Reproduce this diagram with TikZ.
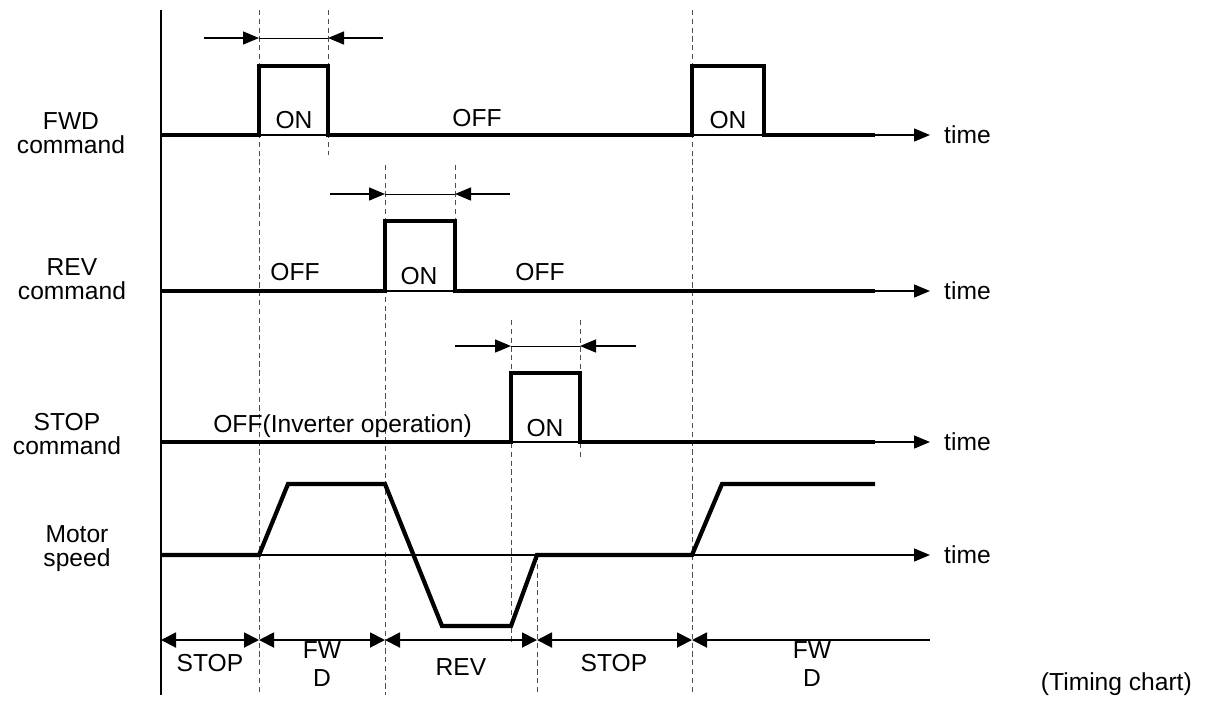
\documentclass[tikz,border=0pt]{standalone}
\usepackage{fontspec}
\setmainfont{Liberation Sans}
\usetikzlibrary{arrows.meta}
\definecolor{ink}{HTML}{000000}
\definecolor{guide}{HTML}{4D4D4D}

\begin{document}
\begin{tikzpicture}[x=.2mm,y=-.2mm,font=\fontsize{14}{13.6}\selectfont,
    signal/.style={draw=ink,line width=2.4pt,line join=miter},
    thinline/.style={draw=ink,line width=.8pt},
    guideline/.style={draw=guide,line width=.55pt,dash pattern=on 3pt off 2pt},
    tip/.style={-{Triangle[length=3.2mm,width=2.6mm]}},
    span/.style={draw=ink,line width=1.1pt,{Triangle[length=3mm,width=3mm]}-{Triangle[length=3mm,width=3mm]}}]
  \useasboundingbox (0,0) rectangle (1205,706);
  \draw[thinline] (161,10) -- (161,695);
  \foreach \x/\ya/\yb in {259/10/695,328/10/155,385/165/695,455/165/293,511/320/645,537/555/695,580/320/460,692/10/695} {
    \draw[guideline] (\x,\ya) -- (\x,\yb);
  }
  \foreach \row/\y in {fwd/135,rev/291,stop/442,motor/555} {
    \coordinate (\row-start) at (161,\y);
    \coordinate (\row-end) at (930,\y);
    \draw[thinline,tip] (\row-start) -- (\row-end);
    \node[anchor=west] (\row-time) at (938,\y) {time};
  }
  \node[align=center] (fwdlab) at (71,133) {FWD\\command};
  \node[align=center] (revlab) at (72,279) {REV\\command};
  \node[align=center] (stoplab) at (67,434) {STOP\\command};
  \node[align=center] (motorlab) at (77,549) {Motor\\speed};
  \draw[signal] (fwd-start) -- (259,135) -- (259,66) -- (328,66) -- (328,135) -- (692,135)
    -- (692,66) -- (764,66) -- (764,135) -- (875,135);
  \draw[signal] (rev-start) -- (385,291) -- (385,221) -- (455,221) -- (455,291) -- (875,291);
  \draw[signal] (stop-start) -- (511,442) -- (511,373) -- (580,373) -- (580,442) -- (875,442);
  \draw[signal] (motor-start) -- (259,555) -- (288,484) -- (385,484) -- (442,626) -- (511,626)
    -- (537,555) -- (692,555) -- (722,484) -- (875,484);
  \node (fwdon) at (294,120) {ON};
  \node (fwdoff) at (477,118) {OFF};
  \node (fwdon2) at (728,120) {ON};
  \node (revoff) at (295,272) {OFF};
  \node (revon) at (419,276) {ON};
  \node (revoff2) at (540,272) {OFF};
  \node[anchor=west,inner sep=0pt] (stopoff) at (213,426) {OFF(Inverter operation)};
  \node (stopon) at (545,428) {ON};
  \foreach \n/\xa/\xb/\xc/\xd/\y in {fwd/204/259/328/383/38,rev/330/385/455/510/194,stop/455/511/580/636/346} {
    \coordinate (\n-pa) at (\xa,\y);
    \coordinate (\n-pb) at (\xb,\y);
    \coordinate (\n-pc) at (\xc,\y);
    \coordinate (\n-pd) at (\xd,\y);
    \draw[thinline,tip] (\n-pa) -- (\n-pb);
    \draw[draw=ink,line width=.5pt] (\n-pb) -- (\n-pc);
    \draw[thinline,tip] (\n-pd) -- (\n-pc);
  }
  \foreach \n/\x in {a/161,b/259,c/385,d/537,e/692,f/930} {
    \coordinate (mark-\n) at (\x,640);
  }
  \draw[span] (mark-a) -- (mark-b);
  \draw[span] (mark-b) -- (mark-c);
  \draw[span] (mark-c) -- (mark-d);
  \draw[span] (mark-d) -- (mark-e);
  \draw[draw=ink,line width=1.1pt,{Triangle[length=3mm,width=3mm]}-] (mark-e) -- (mark-f);
  \node (spanstop) at (210,663) {STOP};
  \node[align=center] (spanfwd) at (322,664) {FW\\[2pt]D};
  \node (spanrev) at (461,667) {REV};
  \node (spanstop2) at (614,663) {STOP};
  \node[align=center] (spanfwd2) at (812,664) {FW\\[2pt]D};
  \node[anchor=east] (chartlab) at (1198,684) {(Timing chart)};
\end{tikzpicture}
\end{document}
